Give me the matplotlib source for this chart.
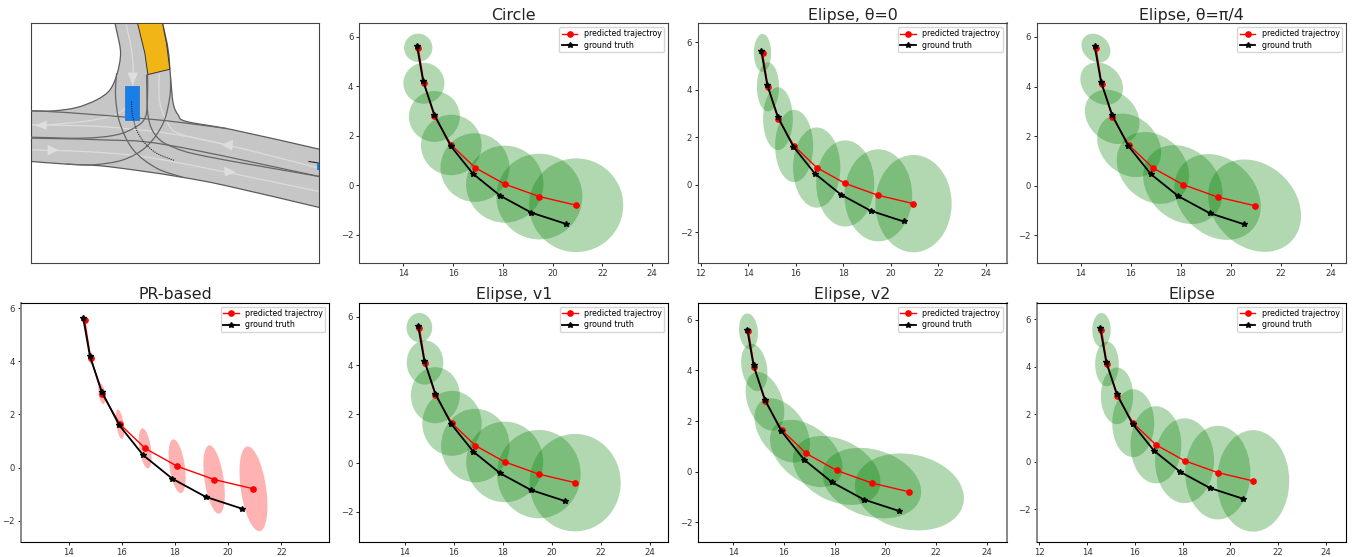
"""
plot.py
Trajectory uncertainty comparison: road map plus seven ellipse panels
"""

import matplotlib
matplotlib.use('Agg')
import matplotlib.pyplot as plt
from matplotlib.patches import Ellipse, Polygon, Rectangle, PathPatch
from matplotlib.path import Path
from matplotlib.ticker import MultipleLocator

# trajectories
pred_x = [14.6, 14.83, 15.25, 15.93, 16.88, 18.08, 19.47, 20.95]
pred_y = [5.55, 4.12, 2.78, 1.63, 0.72, 0.05, -0.45, -0.8]
gt_x = [14.55, 14.8, 15.25, 15.9, 16.8, 17.9, 19.15, 20.53]
gt_y = [5.62, 4.2, 2.85, 1.6, 0.47, -0.42, -1.1, -1.55]

# ellipse sizes for each panel (full width, full height, angle in degrees)
circle_w = [1.14, 1.65, 2.05, 2.44, 2.77, 3.11, 3.46, 3.78]
circle_h = [1.14, 1.65, 2.05, 2.44, 2.77, 3.11, 3.46, 3.78]
circle_a = [0, 0, 0, 0, 0, 0, 0, 0]

theta0_w = [0.73, 0.93, 1.25, 1.6, 1.99, 2.44, 2.85, 3.21]
theta0_h = [1.6, 2.07, 2.65, 3.05, 3.38, 3.63, 3.88, 4.1]
theta0_a = [0, 0, 0, 0, 0, 0, 0, 0]

theta45_w = [1.28, 1.89, 2.42, 2.83, 3.2, 3.51, 3.82, 4.11]
theta45_h = [1.03, 1.51, 1.93, 2.26, 2.56, 2.81, 3.05, 3.29]
theta45_a = [-45, -45, -45, -45, -45, -45, -45, -45]

pr_w = [0.12, 0.17, 0.24, 0.28, 0.43, 0.58, 0.72, 0.95]
pr_h = [0.4, 0.5, 0.79, 1.12, 1.53, 2.04, 2.6, 3.22]
pr_a = [8.4, 8.4, 8.4, 8.4, 8.4, 8.4, 8.4, 8.4]

v1_w = [1.05, 1.49, 2.0, 2.42, 2.79, 3.14, 3.41, 3.72]
v1_h = [1.2, 1.81, 2.3, 2.66, 3.01, 3.3, 3.62, 3.99]
v1_a = [0, 0, 0, 0, 0, 0, 0, 0]

v2_w = [1.42, 1.9, 2.42, 2.84, 3.3, 3.68, 4.0, 4.36]
v2_h = [0.74, 1.0, 1.37, 1.79, 2.1, 2.42, 2.63, 2.97]
v2_a = [95, 100, 110, 125, -40, -27, -18, -12.3]

elipse_w = [0.77, 0.99, 1.35, 1.76, 2.13, 2.47, 2.73, 3.03]
elipse_h = [1.44, 1.88, 2.39, 2.86, 3.25, 3.57, 3.94, 4.27]
elipse_a = [0, 0, 0, 0, 0, 0, 0, 0]

# map outlines
road_outline = [(340, 20), (352, 70), (362, 130), (352, 190), (330, 240), (290, 270), (230, 293),
                (160, 303), (93, 303), (70, 303), (70, 453), (93, 455), (200, 463), (300, 468),
                (420, 483), (550, 503), (680, 528), (958, 593), (985, 600), (985, 425), (958, 418),
                (700, 360), (560, 335), (535, 315), (520, 280), (512, 200), (505, 120), (488, 40), (480, 20)]
goal_outline = [(413, 40), (488, 40), (500, 100), (510, 178), (444, 194), (435, 130)]
lane_lines = [
    [(93, 382), (250, 385), (350, 375), (410, 350), (437, 320), (443, 260), (443, 194)],
    [(93, 385), (300, 390), (500, 405), (958, 500)],
    [(93, 303), (200, 308), (450, 328), (560, 340), (680, 356)],
    [(350, 190), (347, 260), (360, 340), (400, 420), (470, 475), (550, 503)],
    [(440, 194), (445, 320), (470, 380), (520, 412), (620, 440), (958, 500)],
    [(512, 200), (510, 260), (490, 340), (440, 410), (370, 450), (280, 465), (200, 463)],
]
center_lines = [
    [(378, 40), (395, 120), (400, 190), (395, 260), (370, 300), (330, 320), (250, 335), (140, 345), (93, 345)],
    [(93, 345), (300, 350), (500, 370), (680, 405), (958, 475)],
    [(93, 420), (300, 428), (500, 452), (958, 545)],
    [(478, 194), (480, 280), (510, 350), (550, 375), (680, 405)],
]
arrow_heads = [
    [(105, 347), (140, 332), (140, 360)],
    [(143, 405), (143, 437), (175, 421)],
    [(665, 405), (700, 390), (697, 422)],
    [(673, 470), (675, 500), (708, 487)],
    [(383, 188), (415, 188), (398, 225)],
]
ego_track = [(395, 275), (397, 310), (410, 360), (435, 400), (470, 430), (523, 452)]


def smooth_path(pts):
    """Catmull-Rom style bezier curve that passes through the given points"""
    verts = [pts[0]]
    codes = [Path.MOVETO]
    n = len(pts)
    for i in range(n - 1):
        p0 = pts[max(i - 1, 0)]
        p1 = pts[i]
        p2 = pts[i + 1]
        p3 = pts[min(i + 2, n - 1)]
        c1 = (p1[0] + (p2[0] - p0[0]) / 6, p1[1] + (p2[1] - p0[1]) / 6)
        c2 = (p2[0] - (p3[0] - p1[0]) / 6, p2[1] - (p3[1] - p1[1]) / 6)
        verts += [c1, c2, p2]
        codes += [Path.CURVE4, Path.CURVE4, Path.CURVE4]
    return Path(verts, codes)


def px_axes(fig, left, right, top, bottom):
    W, H = fig.get_size_inches() * fig.dpi
    return fig.add_axes([left / W, 1 - bottom / H, (right - left) / W, (bottom - top) / H])


def draw_map(ax):
    ax.set_xlim(93, 958)
    ax.set_ylim(760, 40)
    ax.set_xticks([])
    ax.set_yticks([])
    ax.add_patch(PathPatch(smooth_path(road_outline), facecolor='#c6c6c6', edgecolor='#5c5c5c', lw=0.9, zorder=1))
    for pts in center_lines:
        ax.add_patch(PathPatch(smooth_path(pts), fill=False, edgecolor='#dcdcdc', lw=0.9, zorder=2))
    for pts in lane_lines:
        ax.add_patch(PathPatch(smooth_path(pts), fill=False, edgecolor='#666666', lw=0.9, zorder=3))
    for pts in arrow_heads:
        ax.add_patch(Polygon(pts, closed=True, facecolor='#dedede', edgecolor='none', zorder=4))
    ax.add_patch(Polygon(goal_outline, closed=True, facecolor='#f2b518', edgecolor='#333333', lw=0.7, zorder=5))
    ax.add_patch(Rectangle((374, 227), 42, 102, facecolor='#1a7ee8', edgecolor='#2a78cc', lw=0.6, zorder=5))
    ax.add_patch(PathPatch(smooth_path(ego_track), fill=False, edgecolor='#222222', lw=0.8, ls=(0, (1, 1)), zorder=6))
    ax.plot([928, 958], [455, 460], color='#222222', lw=0.8, zorder=6)
    ax.add_patch(Rectangle((952, 460), 6, 22, facecolor='#1a7ee8', edgecolor='none', zorder=6))
    for side in ax.spines:
        ax.spines[side].set_color('#444444')


def draw_panel(ax, title, widths, heights, angles, xlim, ylim, color='g'):
    for i in range(len(pred_x)):
        ax.add_patch(Ellipse((pred_x[i], pred_y[i]), widths[i], heights[i], angle=angles[i],
                             facecolor=color, edgecolor='none', alpha=0.3, zorder=1))
    ax.plot(pred_x, pred_y, color='r', marker='o', lw=1.0, ms=3.8, label='predicted trajectroy', zorder=3)
    ax.plot(gt_x, gt_y, color='k', marker='*', lw=1.3, ms=4, label='ground truth', zorder=4)
    ax.set_xlim(*xlim)
    ax.set_ylim(*ylim)
    ax.xaxis.set_major_locator(MultipleLocator(2))
    ax.yaxis.set_major_locator(MultipleLocator(2))
    ax.tick_params(labelsize=6.1, length=2.4, width=0.6, pad=2, labelcolor='#333333')
    ax.set_title(title, fontsize=11.4, pad=2.5, color='#222222')
    ax.legend(loc='upper right', fontsize=5.7, borderaxespad=0.5, borderpad=0.3, labelspacing=0.3)


fig = plt.figure(figsize=(13.56, 5.57), dpi=100)
plt.rcParams['axes.linewidth'] = 0.8

draw_map(px_axes(fig, 31, 319, 23.3, 263))

ax_circle = px_axes(fig, 359.5, 668, 23, 263)
draw_panel(ax_circle, 'Circle', circle_w, circle_h, circle_a, (12.24, 24.64), (-3.13, 6.55))
ax_theta0 = px_axes(fig, 698.3, 1006.7, 23, 263)
draw_panel(ax_theta0, 'Elipse, θ=0', theta0_w, theta0_h, theta0_a, (11.9, 24.87), (-3.3, 6.81))
ax_theta45 = px_axes(fig, 1037, 1346, 23, 263)
draw_panel(ax_theta45, 'Elipse, θ=π/4', theta45_w, theta45_h, theta45_a, (12.24, 24.61), (-3.11, 6.56))
ax_pr = px_axes(fig, 20.7, 329.3, 302.7, 542)
draw_panel(ax_pr, 'PR-based', pr_w, pr_h, pr_a, (12.2, 23.8), (-2.8, 6.2), color='r')
ax_v1 = px_axes(fig, 359.3, 668.3, 302.7, 542)
draw_panel(ax_v1, 'Elipse, v1', v1_w, v1_h, v1_a, (12.15, 24.75), (-3.23, 6.57))
ax_v2 = px_axes(fig, 698.3, 1006.7, 302.7, 542)
draw_panel(ax_v2, 'Elipse, v2', v2_w, v2_h, v2_a, (12.62, 24.79), (-2.78, 6.68))
ax_elipse = px_axes(fig, 1037, 1346, 302.7, 542)
draw_panel(ax_elipse, 'Elipse', elipse_w, elipse_h, elipse_a, (11.9, 24.84), (-3.37, 6.7))

# spines: top row is softer, a few sides come out grey and thick in the screenshot
for ax in [ax_circle, ax_theta0, ax_theta45]:
    for side in ax.spines:
        ax.spines[side].set_color('#444444')
for ax, side in [(ax_theta0, 'right'), (ax_v2, 'right'), (ax_pr, 'left'), (ax_elipse, 'left')]:
    ax.spines[side].set_color('#808080')
    ax.spines[side].set_linewidth(1.3)

fig.savefig('out.png', dpi=100)
